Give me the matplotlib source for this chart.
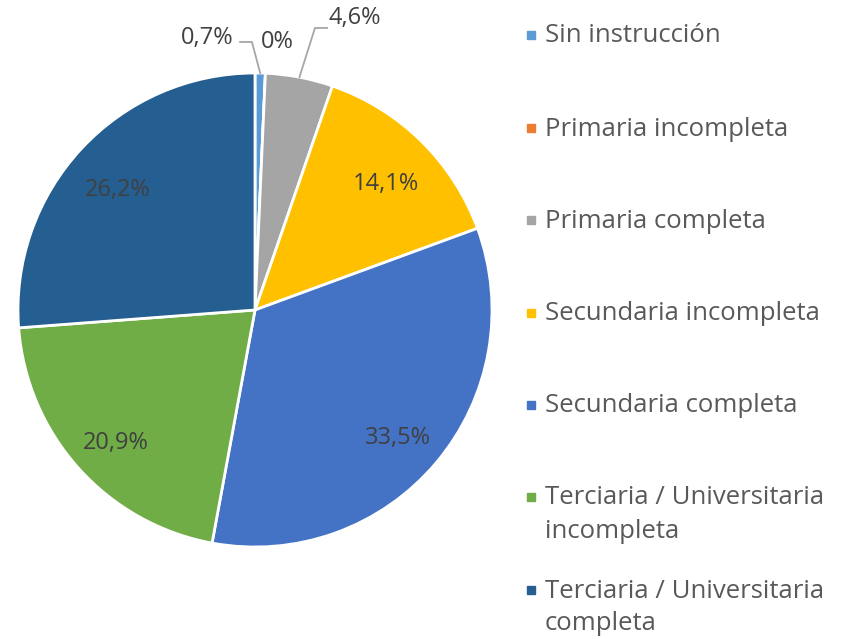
import numpy as np
import matplotlib
matplotlib.use("Agg")
import matplotlib.pyplot as plt

categories = ["Sin instrucción", "Primaria incompleta", "Primaria completa",
              "Secundaria incompleta", "Secundaria completa",
              "Terciaria / Universitaria\nincompleta",
              "Terciaria / Universitaria\ncompleta"]
values = [0.7, 0.0, 4.6, 14.1, 33.5, 20.9, 26.2]
labels = ["0,7%", "0%", "4,6%", "14,1%", "33,5%", "20,9%", "26,2%"]
colors = ["#5B9BD5", "#ED7D31", "#A5A5A5", "#FFC000", "#4472C4", "#70AD47", "#255E91"]

plt.rcParams['font.family'] = ['Open Sans', 'DejaVu Sans']
W, H = 862, 639
fig = plt.figure(figsize=(W / 100, H / 100), dpi=100)
ax = fig.add_axes([18 / W, 92 / H, 474 / W, 474 / H])

wedges, _ = ax.pie(values, colors=colors, startangle=90, counterclock=False,
                   wedgeprops=dict(edgecolor="white", linewidth=2))
ax.set_xlim(-1, 1)
ax.set_ylim(-1, 1)
ax.set_aspect("equal")

txtcol = "#404040"
fs = 17
lfs = 18.5
cum = np.cumsum([0] + values[:-1])
total = sum(values)
mids = [(c + v / 2) / total * 360 for c, v in zip(cum, values)]

# inner labels
for i in range(3, 7):
    a = np.deg2rad(mids[i])
    r = 0.79
    ax.text(r * np.sin(a), r * np.cos(a) - 0.02, labels[i], ha="center", va="center_baseline",
            fontsize=fs, color=txtcol)

# outer labels with leader lines
line_col = "#A6A6A6"
# 0,7%
a = np.deg2rad(mids[0])
ax.plot([np.sin(a), -0.013, -0.063], [np.cos(a), 1.131, 1.131], color=line_col, lw=1.3, clip_on=False)
ax.text(-0.09, 1.148, labels[0], ha="right", va="center", fontsize=fs, color=txtcol)
# 0%
ax.text(0.025, 1.131, labels[1], ha="left", va="center", fontsize=fs, color=txtcol)
# 4,6%
a = np.deg2rad(mids[2])
ax.plot([np.sin(a), 0.253, 0.304], [np.cos(a), 1.19, 1.19], color=line_col, lw=1.3, clip_on=False)
ax.text(0.31, 1.232, labels[2], ha="left", va="center", fontsize=fs, color=txtcol)

# legend
ys = [35, 128, 220, 313, 405, 497, 590]
for cat, col, y in zip(categories, colors, ys):
    fig.patches.append(plt.Rectangle((527 / W, 1 - (y + 4) / H), 8 / W, 8 / H,
                                     transform=fig.transFigure, color=col))
    for k, line in enumerate(cat.split("\n")):
        fig.text(545 / W, 1 - (y + 1 + 33 * k) / H, line, ha="left", va="center",
                 fontsize=lfs, color="#595959")

fig.savefig("out.png", dpi=100, facecolor="white")
